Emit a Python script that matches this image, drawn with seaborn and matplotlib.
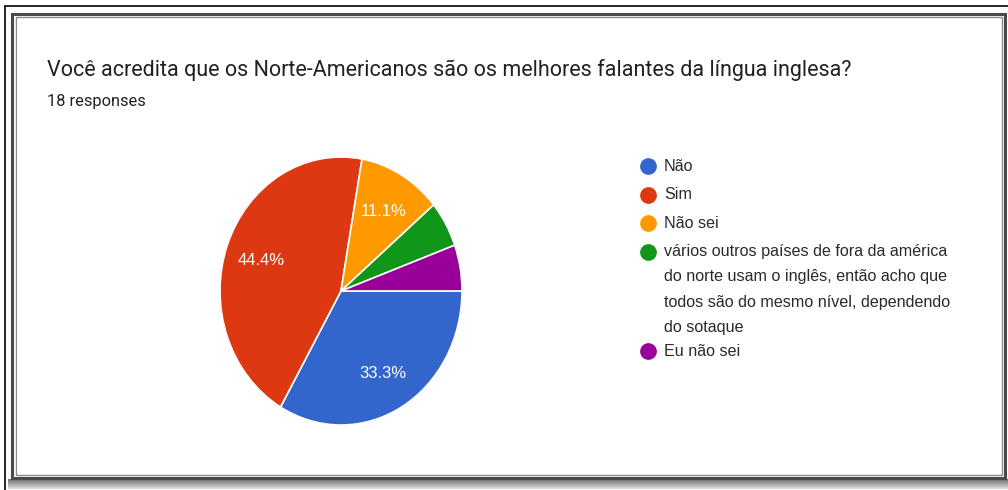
import numpy as np
import seaborn as sns
import matplotlib
matplotlib.use('Agg')
import matplotlib.pyplot as plt
from matplotlib.patches import Rectangle

# data
answers = ['Não', 'Sim', 'Não sei',
           'vários outros países de fora da américa\ndo norte usam o inglês, então acho que\ntodos são do mesmo nível, dependendo\ndo sotaque',
           'Eu não sei']
counts = [6, 8, 2, 1, 1]
colors = ['#3366cc', '#dc3912', '#ff9900', '#109618', '#990099']
title = 'Você acredita que os Norte-Americanos são os melhores falantes da língua inglesa?'
subtitle = '18 responses'

sns.set_theme(style='white')
plt.rcParams['font.family'] = ['Roboto', 'DejaVu Sans']

W, H = 1008, 490
fig = plt.figure(figsize=(W / 100, H / 100), dpi=100)
fig.patch.set_facecolor('white')

# frame: outer thin line, inner double border and bottom shadow (pixel coords)
over = fig.add_axes([0, 0, 1, 1])
over.set_xlim(0, W)
over.set_ylim(H, 0)
over.axis('off')
for i, g in enumerate(np.linspace(0.45, 0.85, 10)):
    over.add_patch(Rectangle((8, 479 + i), 1000, 1, color=str(g), lw=0))
over.plot([5, 1008], [6, 6], color='black', lw=1.2)
over.plot([5, 5], [6, 490], color='black', lw=1.2)
over.add_patch(Rectangle((12, 14), 993, 464, fill=False, ec='#4a4a4a', lw=2.2))
over.add_patch(Rectangle((15.5, 17.5), 986, 457, fill=False, ec='#8a8a8a', lw=1))
over.add_patch(Rectangle((17, 19), 983, 454, fc='white', ec='none'))

over.text(47, 70, title, fontsize=15.5, color='#212121', va='center', ha='left')
over.text(47, 101, subtitle, fontsize=11.8, color='#212121', va='center', ha='left')

# pie (slightly squeezed horizontally, like the screenshot)
cx, cy, rx, ry = 341, 291, 121, 134
ax = fig.add_axes([(cx - rx) / W, (H - cy - ry) / H, 2 * rx / W, 2 * ry / H])
wedges, _, autotexts = ax.pie(
    counts, colors=colors, startangle=0, counterclock=False,
    autopct=lambda p: f'{p:.1f}%' if p > 10 else '', pctdistance=0.7,
    wedgeprops=dict(edgecolor='white', linewidth=1.2),
    textprops=dict(color='white', fontsize=12, family=['Liberation Sans']))
for t in autotexts:
    t.set_va('center_baseline')
ax.set_xlim(-1, 1)
ax.set_ylim(-1, 1)
ax.set_aspect('auto')
ax.axis('off')

# legend, drawn item by item so the marker sits on the first line
y = 166
for lab, c in zip(answers, colors):
    over.scatter([648], [y], s=145, color=c, lw=0)
    over.text(664, y - 7.5, lab, fontsize=11.6, color='#2a2a2a', va='top',
              ha='left', family=['Liberation Sans'], linespacing=1.87)
    y += 28.5 + 23.8 * lab.count('\n')

fig.savefig('out.png', dpi=100)
